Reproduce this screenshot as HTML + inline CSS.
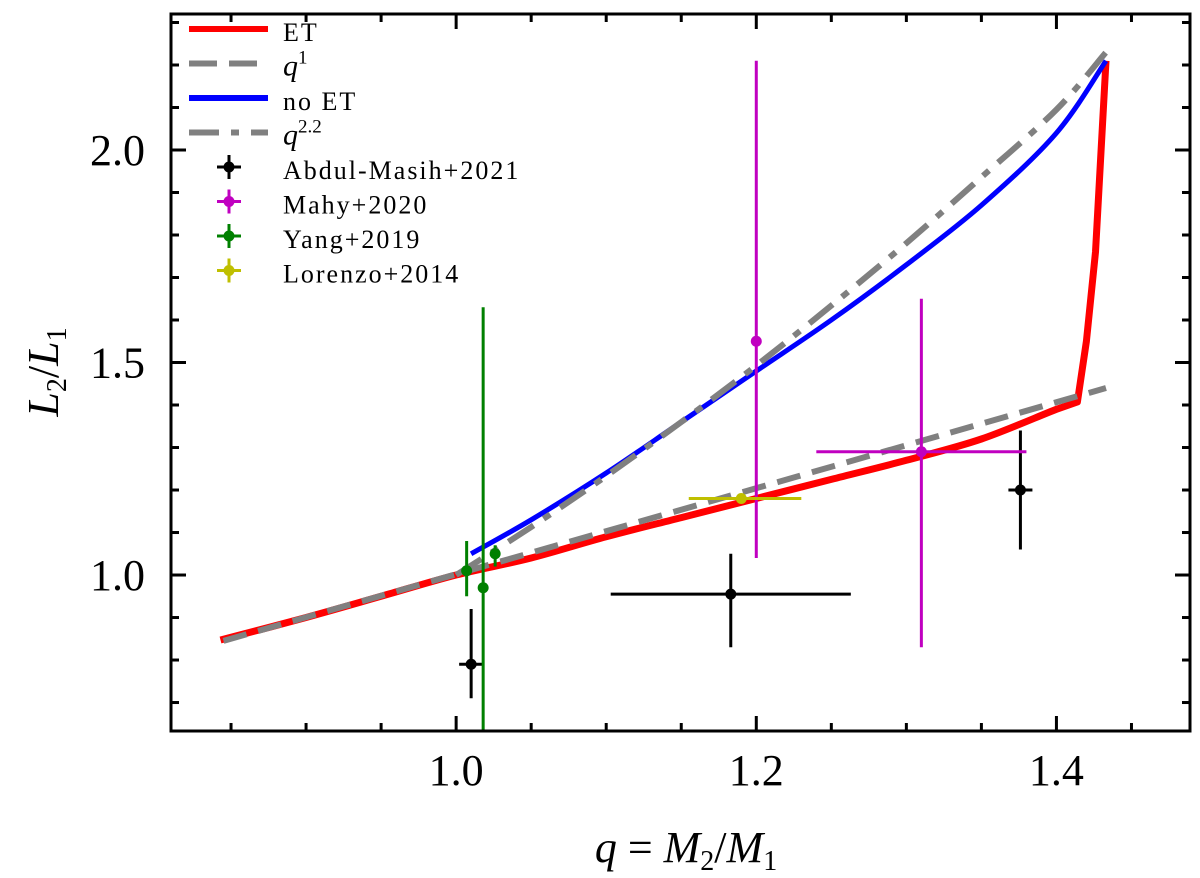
<!DOCTYPE html>
<html><head><meta charset="utf-8"><style>
html,body{margin:0;padding:0;background:#fff;}
svg{display:block;font-family:"Liberation Serif","DejaVu Serif",serif;}
</style></head><body>
<svg id="chart" width="1200" height="878" viewBox="0 0 1200 878">
<defs><clipPath id="clip"><rect x="171" y="14" width="1019" height="717"/></clipPath></defs>
<g id="marks"></g>
<g id="axes"></g>
<g id="legend"></g>
</svg>
<script>
const etQ=[0.843,0.9,0.95,1.0,1.05,1.1,1.15,1.2,1.25,1.3,1.35,1.40,1.414,1.42,1.426,1.433];
const etL=[0.847,0.90,0.95,1.0,1.04,1.09,1.135,1.18,1.225,1.27,1.32,1.39,1.407,1.55,1.76,2.21];
const q1Q=[0.845,1.433];
const q1L=[0.845,1.44];
const noQ=[1.01,1.05,1.1,1.15,1.2,1.25,1.3,1.35,1.4,1.433];
const noL=[1.05,1.13,1.24,1.36,1.48,1.60,1.73,1.87,2.04,2.21];
const q22Q=[1.0,1.05,1.1,1.15,1.2,1.25,1.3,1.35,1.4,1.433];
const q22L=[1.0,1.113,1.233,1.360,1.493,1.634,1.781,1.936,2.095,2.23];
const amX=[1.010,1.183,1.376], amY=[0.79,0.955,1.20], amXlo=[1.002,1.103,1.368], amXhi=[1.018,1.263,1.384], amYlo=[0.71,0.83,1.06], amYhi=[0.92,1.05,1.34];
const mhX=[1.20,1.31], mhY=[1.55,1.29], mhXlo=[1.20,1.24], mhXhi=[1.20,1.38], mhYlo=[1.04,0.83], mhYhi=[2.21,1.65];
const yaX=[1.007,1.018,1.026], yaY=[1.01,0.97,1.05], yaXlo=[1.007,1.018,1.026], yaXhi=[1.007,1.018,1.026], yaYlo=[0.95,0.50,1.02], yaYhi=[1.08,1.63,1.07];
const loX=[1.19], loY=[1.18], loXlo=[1.155], loXhi=[1.23], loYlo=[1.18], loYhi=[1.18];
const xTicks=[1.0,1.2,1.4], xTickLabels=["1.0","1.2","1.4"];
const yTicks=[1.0,1.5,2.0], yTickLabels=["1.0","1.5","2.0"];

const L=171,R=1190,T=14,B=731;
const X0=0.81,X1=1.489,Y0=0.633,Y1=2.32;
const sx=v=>L+(v-X0)/(X1-X0)*(R-L);
const sy=v=>B-(v-Y0)/(Y1-Y0)*(B-T);
const NS="http://www.w3.org/2000/svg";
function mk(tag,attrs,parent){const e=document.createElementNS(NS,tag);for(const k in attrs)e.setAttribute(k,attrs[k]);parent.appendChild(e);return e;}
const marks=document.getElementById('marks'),axes=document.getElementById('axes'),leg=document.getElementById('legend');
const plot=mk('g',{'clip-path':'url(#clip)'},marks);
function line(xs,ys,stroke,w,dash,name){
 // smooth via Catmull-Rom
 const P=xs.map((x,i)=>[sx(x),sy(ys[i])]);
 let d='M'+P[0][0].toFixed(1)+' '+P[0][1].toFixed(1);
 for(let i=0;i<P.length-1;i++){
  if(name==='et-line'&&i>=11){d+=' L'+P[i+1][0].toFixed(1)+' '+P[i+1][1].toFixed(1);continue;}
  const p0=P[Math.max(i-1,0)],p1=P[i],p2=P[i+1],p3=P[Math.min(i+2,P.length-1)];
  const c1=[p1[0]+(p2[0]-p0[0])/6,p1[1]+(p2[1]-p0[1])/6],c2=[p2[0]-(p3[0]-p1[0])/6,p2[1]-(p3[1]-p1[1])/6];
  d+=' C'+c1.map(v=>v.toFixed(1)).join(' ')+' '+c2.map(v=>v.toFixed(1)).join(' ')+' '+p2[0].toFixed(1)+' '+p2[1].toFixed(1);}
 const p=mk('path',{d:d,fill:'none',stroke:stroke,'stroke-width':w,'stroke-dasharray':dash||'none','stroke-linejoin':'round'},plot);
 
 }
function errs(xs,ys,xlo,xhi,ylo,yhi,c,name){for(let i=0;i<xs.length;i++){const g=mk('g',{},plot);
 
 
 mk('line',{x1:sx(xlo[i]),x2:sx(xhi[i]),y1:sy(ys[i]),y2:sy(ys[i]),stroke:c,'stroke-width':3},g);
 mk('line',{x1:sx(xs[i]),x2:sx(xs[i]),y1:sy(ylo[i]),y2:sy(yhi[i]),stroke:c,'stroke-width':3},g);
 mk('circle',{cx:sx(xs[i]),cy:sy(ys[i]),r:5.5,fill:c},g);}}
line(etQ,etL,'#ff0000',7,null,'et-line');
line(q1Q,q1L,'#808080',6,'24 12','q1-line');
line(noQ,noL,'#0000ff',5,null,'no-et-line');
line(q22Q,q22L,'#808080',6,'30 12 8 12','q22-line');
errs(amX,amY,amXlo,amXhi,amYlo,amYhi,'#000','abdul-masih');
errs(mhX,mhY,mhXlo,mhXhi,mhYlo,mhYhi,'#c000c0','mahy');
errs(yaX,yaY,yaXlo,yaXhi,yaYlo,yaYhi,'#008000','yang');
errs(loX,loY,loXlo,loXhi,loYlo,loYhi,'#bfbf00','lorenzo');
const fr=mk('rect',{x:L,y:T,width:R-L,height:B-T,fill:'none',stroke:'#000','stroke-width':3},axes);


for(let v=0.85;v<=1.4801;v+=0.05){const x=sx(v);const maj=Math.abs(v*10-Math.round(v*10))<0.01&&Math.round(v*10)%2===0;const len=maj?15:8;
 mk('line',{x1:x,x2:x,y1:B,y2:B-len,stroke:'#000','stroke-width':3},axes);
 mk('line',{x1:x,x2:x,y1:T,y2:T+len,stroke:'#000','stroke-width':3},axes);}
for(let v=0.7;v<=2.301;v+=0.1){const y=sy(v);const maj=Math.abs(v*2-Math.round(v*2))<0.01;const len=maj?15:8;
 mk('line',{x1:L,x2:L+len,y1:y,y2:y,stroke:'#000','stroke-width':3},axes);
 mk('line',{x1:R,x2:R-len,y1:y,y2:y,stroke:'#000','stroke-width':3},axes);}
xTicks.forEach((v,i)=>{const t=mk('text',{x:sx(v),y:785,'font-size':44,'text-anchor':'middle'},axes);t.textContent=xTickLabels[i];
 
 });
yTicks.forEach((v,i)=>{const t=mk('text',{x:145,y:sy(v)+15,'font-size':44,'text-anchor':'end'},axes);t.textContent=yTickLabels[i];
 
 });
const items=[['ET','line','#ff0000',null],['q','line','#808080','28 12','1'],['no ET','line','#0000ff',null],['q','line','#808080','30 12 8 12','2.2'],
['Abdul-Masih+2021','pt','#000'],['Mahy+2020','pt','#c000c0'],['Yang+2019','pt','#008000'],['Lorenzo+2014','pt','#bfbf00']];
items.forEach((it,i)=>{const y=43+i*34.5;const g=mk('g',{},leg);
 
 
 if(it[1]==='line'){mk('line',{x1:189,x2:268,y1:y-14,y2:y-14,stroke:it[2],'stroke-width':6,'stroke-dasharray':it[3]||'none'},g);}
 else{const cx=229,cy=y-14;mk('line',{x1:cx-12,x2:cx+12,y1:cy,y2:cy,stroke:it[2],'stroke-width':3},g);mk('line',{x1:cx,x2:cx,y1:cy-12,y2:cy+12,stroke:it[2],'stroke-width':3},g);mk('circle',{cx:cx,cy:cy,r:5.5,fill:it[2]},g);}
 const t=mk('text',{x:283,y:y-2,'font-size':it[4]?30:26},g);
 if(it[4]){t.setAttribute('font-style','italic');t.textContent='q';const s=mk('tspan',{dy:-12,'font-size':19,'font-style':'normal'},t);s.textContent=it[4];}
 else{t.textContent=it[0];t.setAttribute('letter-spacing','2');}
});
const svg=document.getElementById('chart');
const xt=document.createElementNS(NS,'text');
xt.setAttribute('x',686);xt.setAttribute('y',862);xt.setAttribute('font-size',44);xt.setAttribute('text-anchor','middle');


xt.innerHTML='<tspan font-style="italic">q</tspan> = <tspan font-style="italic">M</tspan><tspan font-size="28" dy="8">2</tspan><tspan dy="-8">/</tspan><tspan font-style="italic">M</tspan><tspan font-size="28" dy="8">1</tspan>';
svg.appendChild(xt);
const yt=document.createElementNS(NS,'text');
yt.setAttribute('transform','translate(58,372) rotate(-90)');yt.setAttribute('font-size',44);yt.setAttribute('text-anchor','middle');


yt.innerHTML='<tspan font-style="italic">L</tspan><tspan font-size="28" dy="8">2</tspan><tspan dy="-8">/</tspan><tspan font-style="italic">L</tspan><tspan font-size="28" dy="8">1</tspan>';
svg.appendChild(yt);
</script>
</body></html>
